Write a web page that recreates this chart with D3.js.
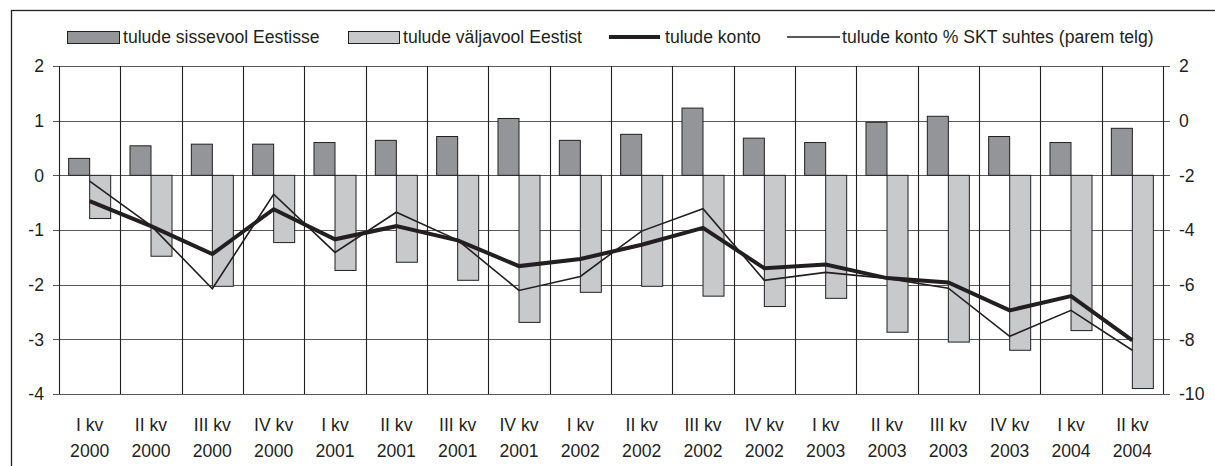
<!DOCTYPE html>
<html>
<head>
<meta charset="utf-8">
<script src="https://cdn.jsdelivr.net/npm/d3@7"></script>
<style>
  body { margin: 0; background: #fff; }
  svg { display: block; font-family: "Liberation Sans", Arial, sans-serif; }
</style>
</head>
<body>
<svg></svg>
<script>
let quarters = ["I kv", "II kv", "III kv", "IV kv", "I kv", "II kv", "III kv", "IV kv", "I kv", "II kv", "III kv", "IV kv", "I kv", "II kv", "III kv", "IV kv", "I kv", "II kv"];
let years = ["2000", "2000", "2000", "2000", "2001", "2001", "2001", "2001", "2002", "2002", "2002", "2002", "2003", "2003", "2003", "2003", "2004", "2004"];

let inflow = [0.31, 0.54, 0.57, 0.57, 0.60, 0.64, 0.71, 1.04, 0.64, 0.75, 1.23, 0.68, 0.60, 0.97, 1.08, 0.71, 0.60, 0.86];
let outflow = [-0.79, -1.48, -2.03, -1.23, -1.74, -1.59, -1.92, -2.69, -2.14, -2.03, -2.21, -2.40, -2.25, -2.87, -3.05, -3.20, -2.84, -3.90];
let account = [-0.47, -0.93, -1.44, -0.62, -1.17, -0.93, -1.19, -1.66, -1.53, -1.27, -0.96, -1.70, -1.63, -1.88, -1.96, -2.47, -2.21, -3.02];
let accountGdp = [-2.21, -3.84, -6.15, -2.69, -4.82, -3.35, -4.37, -6.21, -5.70, -4.04, -3.22, -5.84, -5.55, -5.77, -6.13, -7.89, -6.94, -8.40];

let leftTicks = [2, 1, 0, -1, -2, -3, -4];
let rightTicks = [2, 0, -2, -4, -6, -8, -10];

let legendLabels = ["tulude sissevool Eestisse", "tulude väljavool Eestist", "tulude konto", "tulude konto % SKT suhtes (parem telg)"];

let width = 1215;
let height = 466;
let plotLeft = 59;
let plotRight = 1163;
let plotTop = 66;
let plotBottom = 394;

let ink = "#231f20";
let darkFill = "#939598";
let lightFill = "#c8c9cb";
let fontSize = 17.6;

let svg = d3.select("svg").attr("width", width).attr("height", height);

let idx = d3.range(quarters.length);

let xScale = d3.scaleBand()
    .domain(idx)
    .range([plotLeft, plotRight])
    .paddingInner(0.315)
    .paddingOuter(0.1575);

let xSub = d3.scaleBand()
    .domain([0, 1])
    .range([0, xScale.bandwidth()]);

let yScale = d3.scaleLinear().domain([-4, 2]).range([plotBottom, plotTop]);
let yRight = d3.scaleLinear().domain([-10, 2]).range([plotBottom, plotTop]);

let step = (plotRight - plotLeft) / quarters.length;
let center = (i) => plotLeft + step * (i + 0.5);

// outer frame
svg.append("rect")
    .attr("x", 11.5).attr("y", 10.5)
    .attr("width", width).attr("height", height)
    .attr("fill", "none")
    .attr("stroke", ink)
    .attr("stroke-width", 1.3);

// horizontal grid
svg.append("g")
    .selectAll("line")
    .data(leftTicks)
    .enter()
    .append("line")
    .attr("x1", plotLeft - 6)
    .attr("x2", plotRight + 7)
    .attr("y1", (d) => Math.round(yScale(d)) + 0.5)
    .attr("y2", (d) => Math.round(yScale(d)) + 0.5)
    .attr("stroke", "#58585a")
    .attr("stroke-width", 1.1);

// vertical grid (category boundaries)
svg.append("g")
    .selectAll("line")
    .data(d3.range(quarters.length + 1))
    .enter()
    .append("line")
    .attr("x1", (d) => Math.round(plotLeft + step * d) + 0.5)
    .attr("x2", (d) => Math.round(plotLeft + step * d) + 0.5)
    .attr("y1", plotTop)
    .attr("y2", plotBottom)
    .attr("stroke", ink)
    .attr("stroke-width", 1.1);

// bars
svg.append("g")
    .selectAll("rect")
    .data(idx)
    .enter()
    .append("rect")
    .attr("x", (i) => xScale(i) + xSub(0))
    .attr("y", (i) => yScale(inflow[i]))
    .attr("width", xSub.bandwidth())
    .attr("height", (i) => yScale(0) - yScale(inflow[i]))
    .attr("fill", darkFill)
    .attr("stroke", ink)
    .attr("stroke-width", 1);

svg.append("g")
    .selectAll("rect")
    .data(idx)
    .enter()
    .append("rect")
    .attr("x", (i) => xScale(i) + xSub(1))
    .attr("y", yScale(0))
    .attr("width", xSub.bandwidth())
    .attr("height", (i) => yScale(outflow[i]) - yScale(0))
    .attr("fill", lightFill)
    .attr("stroke", ink)
    .attr("stroke-width", 1);

// lines
let lineLeft = d3.line().x((i) => center(i)).y((i) => yScale(account[i]));
let lineRight = d3.line().x((i) => center(i)).y((i) => yRight(accountGdp[i]));

svg.append("path")
    .attr("d", lineRight(idx))
    .attr("fill", "none")
    .attr("stroke", ink)
    .attr("stroke-width", 1.6);

svg.append("path")
    .attr("d", lineLeft(idx))
    .attr("fill", "none")
    .attr("stroke", ink)
    .attr("stroke-width", 4)
    .attr("stroke-linejoin", "miter");

// left axis labels
svg.append("g")
    .selectAll("text")
    .data(leftTicks)
    .enter()
    .append("text")
    .attr("x", 44)
    .attr("y", (d) => yScale(d))
    .attr("dy", "0.36em")
    .attr("text-anchor", "end")
    .attr("font-size", fontSize)
    .attr("fill", ink)
    .text((d) => d);

// right axis labels
svg.append("g")
    .selectAll("text")
    .data(rightTicks)
    .enter()
    .append("text")
    .attr("x", 1179)
    .attr("y", (d) => yRight(d))
    .attr("dy", "0.36em")
    .attr("text-anchor", "start")
    .attr("font-size", fontSize)
    .attr("fill", ink)
    .text((d) => d);

// category labels
let cats = svg.append("g")
    .selectAll("text")
    .data(idx)
    .enter()
    .append("text")
    .attr("text-anchor", "middle")
    .attr("font-size", fontSize)
    .attr("fill", ink);

cats.append("tspan")
    .attr("x", (i) => center(i))
    .attr("y", 431)
    .text((i) => quarters[i]);

cats.append("tspan")
    .attr("x", (i) => center(i))
    .attr("y", 457)
    .text((i) => years[i]);

// legend
let legend = svg.append("g").attr("id", "legend");

legend.append("rect")
    .attr("x", 67.5).attr("y", 31.5).attr("width", 52).attr("height", 12)
    .attr("fill", darkFill).attr("stroke", ink).attr("stroke-width", 1);
legend.append("text")
    .attr("x", 123).attr("y", 43)
    .attr("font-size", fontSize).attr("fill", ink)
    .text(legendLabels[0]);

legend.append("rect")
    .attr("x", 348.5).attr("y", 31.5).attr("width", 51).attr("height", 12)
    .attr("fill", lightFill).attr("stroke", ink).attr("stroke-width", 1);
legend.append("text")
    .attr("x", 403).attr("y", 43)
    .attr("font-size", fontSize).attr("fill", ink)
    .text(legendLabels[1]);

legend.append("line")
    .attr("x1", 609).attr("x2", 660).attr("y1", 37).attr("y2", 37)
    .attr("stroke", ink).attr("stroke-width", 4);
legend.append("text")
    .attr("x", 665).attr("y", 43)
    .attr("font-size", fontSize).attr("fill", ink)
    .text(legendLabels[2]);

legend.append("line")
    .attr("x1", 787).attr("x2", 840).attr("y1", 37).attr("y2", 37)
    .attr("stroke", ink).attr("stroke-width", 1.6);
legend.append("text")
    .attr("x", 842).attr("y", 43)
    .attr("font-size", fontSize).attr("fill", ink)
    .text(legendLabels[3]);
</script>
</body>
</html>
